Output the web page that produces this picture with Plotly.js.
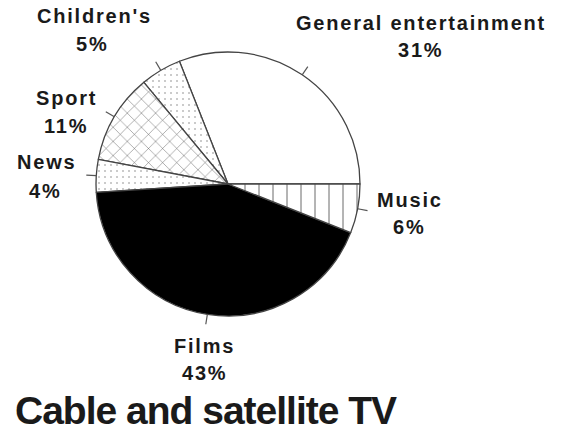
<!DOCTYPE html>
<html>
<head>
<meta charset="utf-8">
<script src="https://cdn.plot.ly/plotly-3.0.1.min.js"></script>
<style>
  html, body { margin: 0; padding: 0; background: #fff; }
  #chart { width: 563px; height: 439px; }
  .annotation-text { letter-spacing: 1.8px; }
  .gtitle { letter-spacing: -1px; }
</style>
</head>
<body>
<div id="chart"></div>
<script>
// ---- data ----
const labels = ["General entertainment", "Children's", "Sport", "News", "Films", "Music"];
const values = [31, 5, 11, 4, 43, 6];
const patternShapes = ["", ".", "x", ".", "", "|"];
const fillColors = ["#ffffff", "#ffffff", "#ffffff", "#ffffff", "#000000", "#ffffff"];
const chartTitle = "Cable and satellite TV";

// ---- layout geometry (pixels) ----
const W = 563, H = 439;
const cx = 228, cy = 184, R = 132;           // pie centre (from top) and radius
// label text centres [nameX, nameY, pctX, pctY] in px from top-left
const labelPos = [
  [421, 23, 420, 50],
  [94, 16, 92, 44],
  [66, 98, 66, 126],
  [46, 162, 45, 191],
  [204, 346, 204, 373],
  [410, 200, 409, 227]
];

const px = x => x / W;
const py = y => (H - y) / H;

const total = values.reduce((a, b) => a + b, 0);

// tick marks at slice mid-angles (start at 3 o'clock, counterclockwise)
const shapes = [];
let cum = 0;
values.forEach(v => {
  const mid = (cum + v / 2) / total * 2 * Math.PI;
  cum += v;
  const r1 = R, r2 = R + 10;
  shapes.push({
    type: 'line', xref: 'paper', yref: 'paper',
    x0: px(cx + r1 * Math.cos(mid)), y0: py(cy - r1 * Math.sin(mid)),
    x1: px(cx + r2 * Math.cos(mid)), y1: py(cy - r2 * Math.sin(mid)),
    line: { color: '#555', width: 1.2 }
  });
});

const labFont = { family: 'Liberation Sans, Arial, sans-serif', size: 20, color: '#1a1a1a', weight: 'bold' };
const annotations = [];
labels.forEach((lab, i) => {
  const p = labelPos[i];
  annotations.push({
    text: lab, xref: 'paper', yref: 'paper', x: px(p[0]), y: py(p[1]),
    xanchor: 'center', yanchor: 'middle', showarrow: false, font: labFont
  });
  annotations.push({
    text: Math.round(values[i] / total * 100) + '%', xref: 'paper', yref: 'paper',
    x: px(p[2]), y: py(p[3]), xanchor: 'center', yanchor: 'middle', showarrow: false, font: labFont
  });
});

// Plotly's counterclockwise pie ends the first slice at `rotation`;
// shift so the first slice starts at 3 o'clock.
const rotation = 90 - 360 * values[0] / total;

const trace = {
  type: 'pie',
  labels: labels,
  values: values,
  sort: false,
  direction: 'counterclockwise',
  rotation: rotation,
  textinfo: 'none',
  hoverinfo: 'label+percent',
  showlegend: false,
  domain: { x: [px(cx - R), px(cx + R)], y: [py(cy + R), py(cy - R)] },
  marker: {
    colors: fillColors,
    line: { color: '#444', width: 1.3 },
    pattern: {
      shape: patternShapes,
      fgcolor: ['#000', '#8a8a8a', '#555', '#8a8a8a', '#000', '#666'],
      size: [8, 6, 10, 6, 8, 14],
      solidity: [0.1, 0.06, 0.09, 0.06, 0.1, 0.07],
      fillmode: 'replace'
    }
  }
};

const layout = {
  width: W, height: H,
  margin: { l: 0, r: 0, t: 0, b: 0 },
  paper_bgcolor: '#ffffff',
  plot_bgcolor: '#ffffff',
  showlegend: false,
  title: {
    text: chartTitle,
    font: { family: 'Liberation Sans, Arial, sans-serif', size: 39, color: '#1a1a1a', weight: 'bold' },
    xref: 'paper', x: px(15), xanchor: 'left',
    yref: 'container', y: (H - 410) / H, yanchor: 'middle'
  },
  shapes: shapes,
  annotations: annotations
};

Plotly.newPlot('chart', [trace], layout, { displayModeBar: false, staticPlot: true });
</script>
</body>
</html>
